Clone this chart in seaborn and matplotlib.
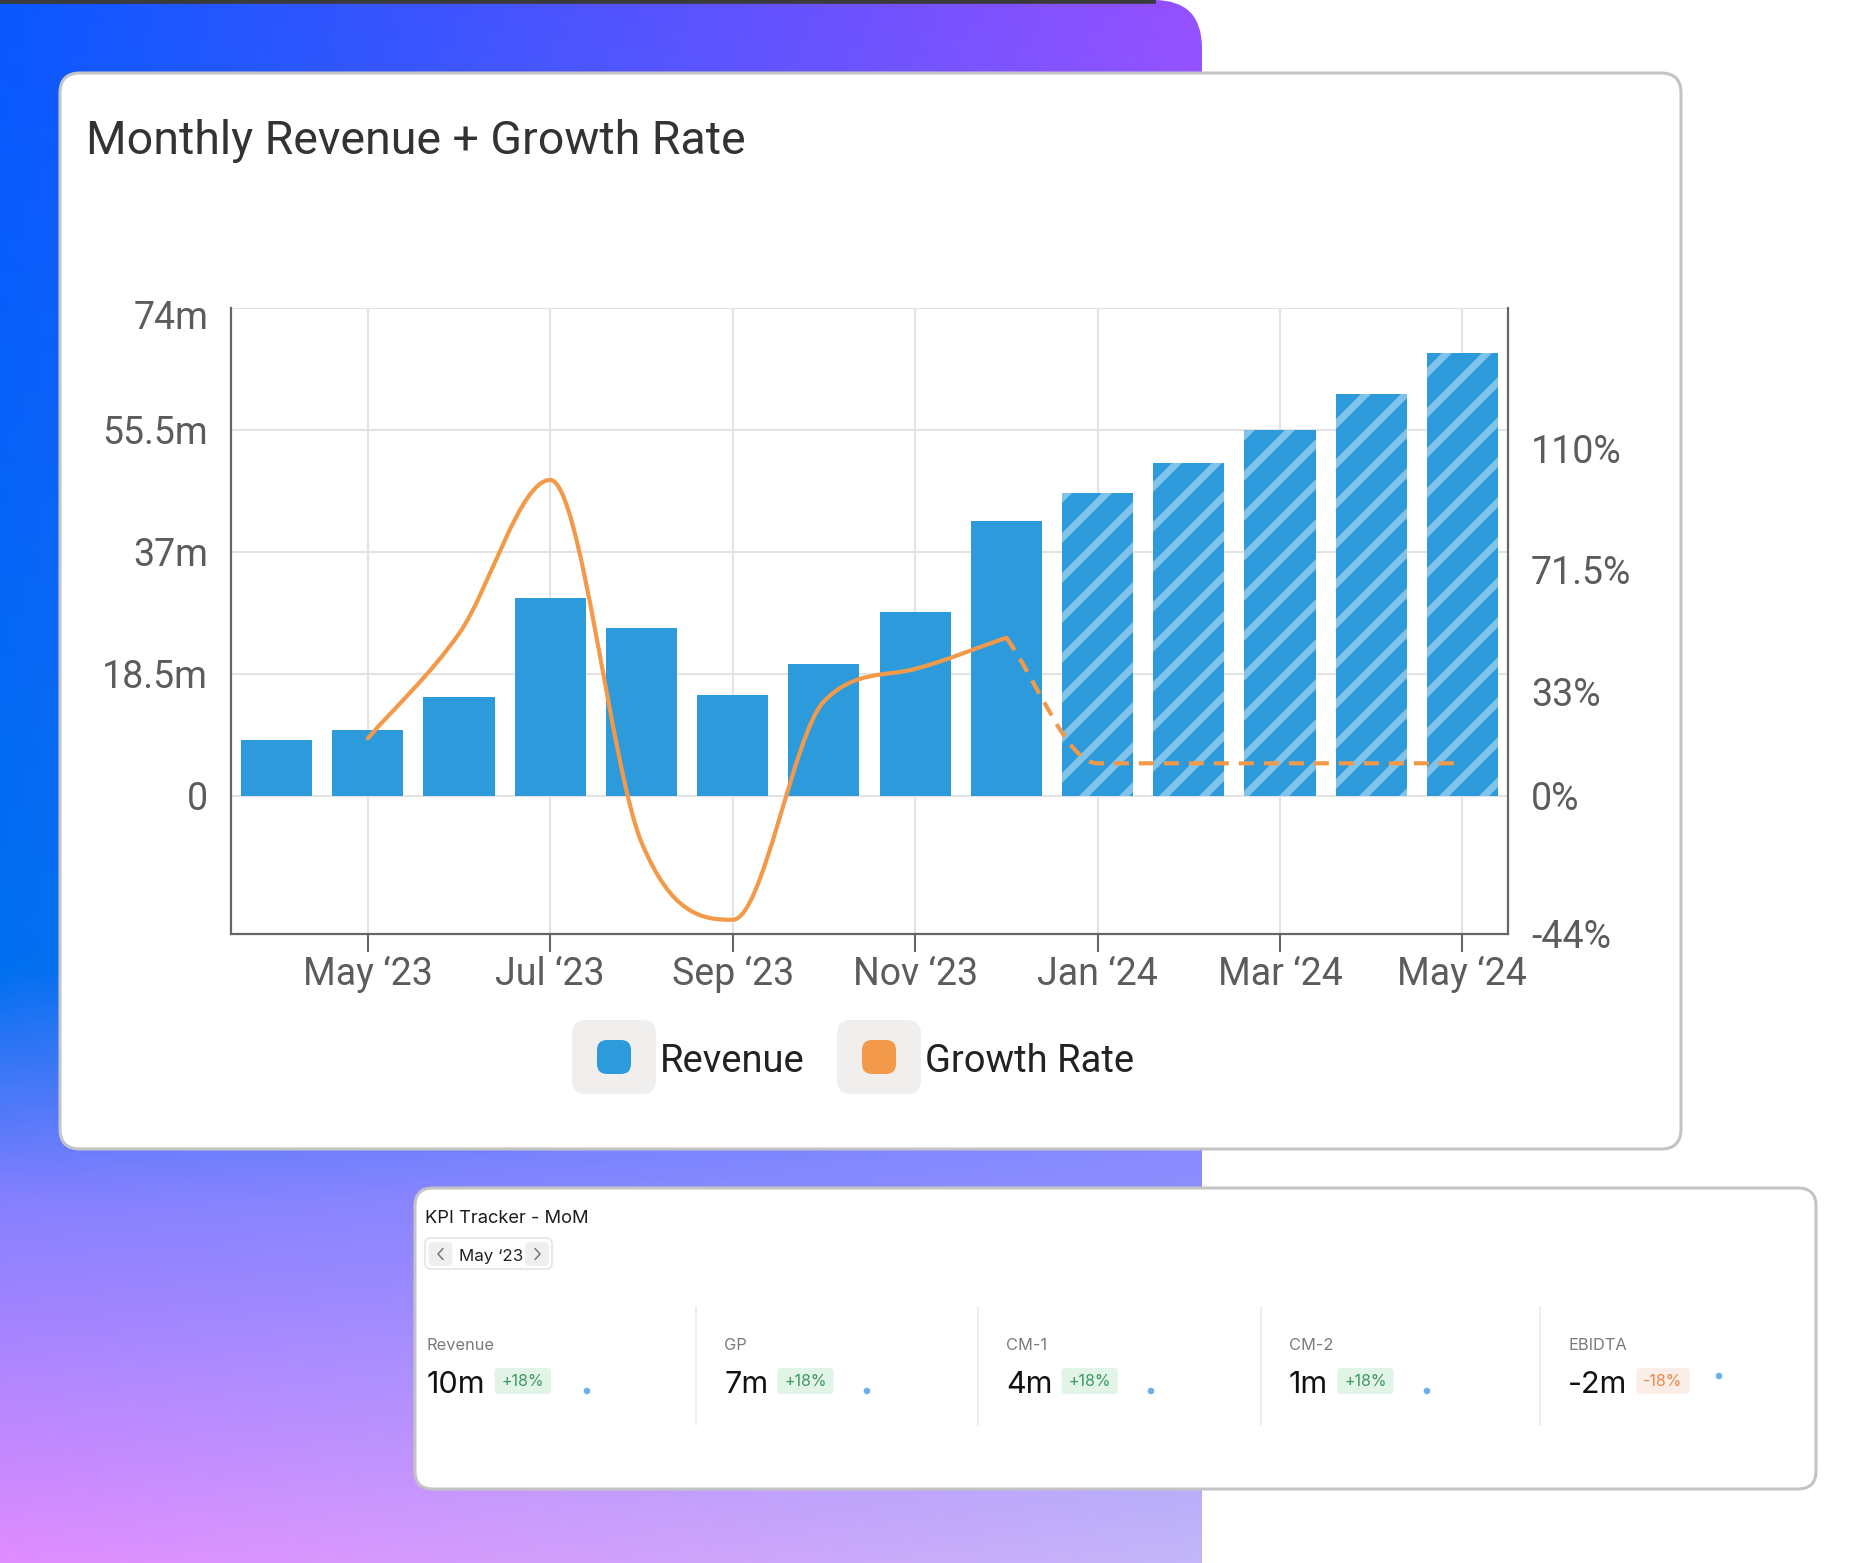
import numpy as np
import pandas as pd
import matplotlib
matplotlib.use("Agg")
import matplotlib.pyplot as plt
import matplotlib.transforms as mtransforms
import seaborn as sns
from matplotlib.patches import FancyBboxPatch, PathPatch, Rectangle, Circle
from matplotlib.path import Path

# ---------------- data ----------------
months = ["Apr \u201823", "May \u201823", "Jun \u201823", "Jul \u201823", "Aug \u201823",
          "Sep \u201823", "Oct \u201823", "Nov \u201823", "Dec \u201823", "Jan \u201824",
          "Feb \u201824", "Mar \u201824", "Apr \u201824", "May \u201824"]
revenue_m = [8.5, 10.0, 15.0, 30.0, 25.5, 15.3, 19.9, 27.9, 41.7, 45.9, 50.5, 55.5, 61.0, 67.1]
growth_pct = [np.nan, 18.0, 51.2, 99.9, -14.9, -39.5, 29.7, 40.0, 49.9, 10.1, 10.1, 10.1, 10.1, 10.1]
is_forecast = [False] * 9 + [True] * 5
x_tick_labels = ["May \u201823", "Jul \u201823", "Sep \u201823", "Nov \u201823",
                 "Jan \u201824", "Mar \u201824", "May \u201824"]
left_ticks = [0, 18.5, 37, 55.5, 74]
left_tick_labels = ["0", "18.5m", "37m", "55.5m", "74m"]
right_ticks = [-44, 0, 33, 71.5, 110]
right_tick_labels = ["-44%", "0%", "33%", "71.5%", "110%"]
legend_labels = ["Revenue", "Growth Rate"]
chart_title = "Monthly Revenue + Growth Rate"

kpi_title = "KPI Tracker - MoM"
kpi_period = "May \u201823"
kpi_names = ["Revenue", "GP", "CM-1", "CM-2", "EBIDTA"]
kpi_values = ["10m", "7m", "4m", "1m", "-2m"]
kpi_changes = ["+18%", "+18%", "+18%", "+18%", "-18%"]

# ---------------- style ----------------
BLUE = "#2d9bdb"
HATCH = "#80c3ea"
ORANGE = "#f29a4a"
TICK_COL = "#5c5c5c"
SPINE_COL = "#666666"
GRID_COL = "#e3e3e3"

DPI = 120
S = 100 / DPI  # sizes below were tuned in "points at 100 dpi"


def pt(v):
    return v * S


sns.set_theme(style="white")
plt.rcParams["font.family"] = ["Roboto", "DejaVu Sans"]
plt.rcParams["hatch.linewidth"] = 4.3
plt.rcParams["hatch.color"] = HATCH
KFONT = ["Inter", "Roboto", "DejaVu Sans"]

W, H = 1875, 1563
fig = plt.figure(figsize=(W / DPI, H / DPI), dpi=DPI)
fig.patch.set_facecolor("white")

# ---------------- background layer (pixel coords) ----------------
bg = fig.add_axes([0, 0, 1, 1], zorder=0)
bg.set_xlim(0, W)
bg.set_ylim(H, 0)
bg.axis("off")


def hex2rgb(h):
    h = h.lstrip("#")
    return [int(h[i:i + 2], 16) / 255 for i in (0, 2, 4)]


stops_y = [0.0, 0.62, 0.77, 1.0]
left_cols = [hex2rgb(c) for c in ["#0a57ff", "#0070f0", "#8680ff", "#e08cff"]]
right_cols = [hex2rgb(c) for c in ["#9650ff", "#7c7dff", "#8e90ff", "#c3b6f9"]]
ny, nx = 400, 300
yv = np.linspace(0, 1, ny)
xv = np.linspace(0, 1, nx)[None, :]
img = np.zeros((ny, nx, 3))
for c in range(3):
    lc = np.interp(yv, stops_y, [col[c] for col in left_cols])
    rc = np.interp(yv, stops_y, [col[c] for col in right_cols])
    img[:, :, c] = lc[:, None] * (1 - xv) + rc[:, None] * xv
im = bg.imshow(img, extent=(0, 1202, H, 0), aspect="auto", interpolation="bilinear", zorder=0)
clip = FancyBboxPatch((-200, 0), 1402, H + 300, boxstyle="round,pad=0,rounding_size=48",
                      transform=bg.transData, facecolor="none", edgecolor="none")
bg.add_patch(clip)
im.set_clip_path(clip)
bg.add_patch(Rectangle((0, 0), 1155, 3, color="#3a3a3a", zorder=1))
bg.set_xlim(0, W)
bg.set_ylim(H, 0)

# cards
bg.add_patch(FancyBboxPatch((60, 73), 1621, 1076, boxstyle="round,pad=0,rounding_size=20",
                            facecolor="white", edgecolor="#c4c4c4", lw=pt(2.2), zorder=2))
bg.add_patch(FancyBboxPatch((415, 1188), 1401, 301, boxstyle="round,pad=0,rounding_size=18",
                            facecolor="white", edgecolor="#c4c4c4", lw=pt(2.2), zorder=2))

# title
bg.text(86, 154, chart_title, fontsize=pt(33.5), color="#333333", va="baseline", zorder=3)

# legend
leg_box_x = [572, 837]
leg_text_x = [660, 925]
for lab, col, bx, tx in zip(legend_labels, [BLUE, ORANGE], leg_box_x, leg_text_x):
    bg.add_patch(FancyBboxPatch((bx, 1020), 84, 74, boxstyle="round,pad=0,rounding_size=14",
                                facecolor="#f0efee", edgecolor="none", zorder=3))
    bg.add_patch(FancyBboxPatch((bx + 25, 1040), 34, 34, boxstyle="round,pad=0,rounding_size=10",
                                facecolor=col, edgecolor="none", zorder=4))
    bg.text(tx, 1072, lab, fontsize=pt(27.5), color="#222222", va="baseline", zorder=4)

# ---------------- chart ----------------
pl, pr, ptop, pb = 231, 1508, 308, 934
ax = fig.add_axes([pl / W, (H - pb) / H, (pr - pl) / W, (pb - ptop) / H], zorder=1)
ax.set_facecolor("none")

df = pd.DataFrame({"month": months, "revenue": revenue_m})
sns.barplot(data=df, x="month", y="revenue", color=BLUE, saturation=1, width=0.78,
            errorbar=None, ax=ax, zorder=2)
for patch, fc in zip(ax.patches, is_forecast):
    patch.set_linewidth(0)
    if fc:
        patch.set_hatch("/")
        patch.set_edgecolor(HATCH)
        if hasattr(patch, "set_hatch_linewidth"):
            patch.set_hatch_linewidth(4.3)

ax.set_xlim(-0.5, len(months) - 0.5)
ax.set_ylim(-21.0, 74)
tick_pos = [months.index(t) for t in x_tick_labels]
ax.set_xticks(tick_pos)
ax.set_xticklabels(x_tick_labels)
ax.set_yticks(left_ticks)
ax.set_yticklabels(left_tick_labels)
ax.set_xlabel("")
ax.set_ylabel("")
ax.set_axisbelow(True)
ax.grid(True, color=GRID_COL, lw=pt(1.5))
ax.tick_params(axis="y", length=0, pad=pt(16.5), labelsize=pt(27), labelcolor=TICK_COL)
ax.tick_params(axis="x", length=pt(13), width=pt(1.5), color=SPINE_COL, pad=pt(3), labelsize=pt(27),
               labelcolor=TICK_COL, bottom=True)
for s in ["top", "right"]:
    ax.spines[s].set_visible(False)
for s in ["left", "bottom"]:
    ax.spines[s].set_color(SPINE_COL)
    ax.spines[s].set_linewidth(pt(1.6))
# the top label sits a little below its gridline
top_lab = ax.get_yticklabels()[-1]
top_lab.set_transform(top_lab.get_transform() +
                      mtransforms.ScaledTranslation(0, -7 / DPI, fig.dpi_scale_trans))

ax2 = ax.twinx()
ax2.set_ylim(-43.8, 154.4)
ax2.set_yticks(right_ticks)
ax2.set_yticklabels(right_tick_labels)
ax2.tick_params(axis="y", length=0, pad=pt(16.5), labelsize=pt(27), labelcolor=TICK_COL)
ax2.grid(False)
for s in ["top", "left", "bottom"]:
    ax2.spines[s].set_visible(False)
ax2.spines["right"].set_color(SPINE_COL)
ax2.spines["right"].set_linewidth(pt(1.6))


def monotone_path(xs, ys):
    xs = np.asarray(xs, float)
    ys = np.asarray(ys, float)
    n = len(xs)
    d = np.diff(ys) / np.diff(xs)
    m = np.zeros(n)
    m[0], m[-1] = d[0], d[-1]
    for i in range(1, n - 1):
        m[i] = 0.0 if d[i - 1] * d[i] <= 0 else (d[i - 1] + d[i]) / 2
    for i in range(n - 1):
        if abs(d[i]) < 1e-9:
            m[i] = m[i + 1] = 0.0
            continue
        a, b = m[i] / d[i], m[i + 1] / d[i]
        s = a * a + b * b
        if s > 9:
            t = 3 / np.sqrt(s)
            m[i], m[i + 1] = t * a * d[i], t * b * d[i]
    verts = [(xs[0], ys[0])]
    codes = [Path.MOVETO]
    for i in range(n - 1):
        h = xs[i + 1] - xs[i]
        verts += [(xs[i] + h / 3, ys[i] + m[i] * h / 3),
                  (xs[i + 1] - h / 3, ys[i + 1] - m[i + 1] * h / 3),
                  (xs[i + 1], ys[i + 1])]
        codes += [Path.CURVE4] * 3
    return Path(verts, codes)


g = np.asarray(growth_pct, float)
idx = np.arange(len(months))
actual = [i for i in idx if not is_forecast[i] and not np.isnan(g[i])]
last_actual = actual[-1]
fcast = [last_actual] + [i for i in idx if is_forecast[i]]
ax2.add_patch(PathPatch(monotone_path(idx[actual], g[actual]), fill=False, edgecolor=ORANGE,
                        lw=pt(3.0), capstyle="round", joinstyle="round", zorder=3))
ax2.add_patch(PathPatch(monotone_path(idx[fcast], g[fcast]), fill=False, edgecolor=ORANGE,
                        lw=pt(3.0), linestyle=(0, (3.6, 2.4)), zorder=3))

# ---------------- KPI card ----------------
bg.text(425, 1223, kpi_title, fontsize=pt(13.2), color="#1c1c1c", va="baseline", family=KFONT, zorder=5)
bg.add_patch(FancyBboxPatch((425, 1238), 127, 31, boxstyle="round,pad=0,rounding_size=6",
                            facecolor="white", edgecolor="#e4e4e4", lw=pt(1.2), zorder=5))
for bx in (428.5, 525):
    bg.add_patch(FancyBboxPatch((bx, 1242), 24, 24, boxstyle="round,pad=0,rounding_size=5",
                                facecolor="#efefef", edgecolor="none", zorder=6))
bg.plot([443, 438, 443], [1248.5, 1254, 1259.5], color="#777777", lw=pt(1.1), zorder=7,
        solid_capstyle="round")
bg.plot([535, 540, 535], [1248.5, 1254, 1259.5], color="#777777", lw=pt(1.1), zorder=7,
        solid_capstyle="round")
bg.text(459, 1261, kpi_period, fontsize=pt(12.2), color="#222222", va="baseline", family=KFONT, zorder=7)

for sx in (696, 978, 1261, 1540):
    bg.plot([sx, sx], [1307, 1425], color="#ebebeb", lw=pt(1.2), zorder=5)

col_x = [427, 724, 1006, 1289, 1568]
dot_x = [587, 867, 1151, 1427, 1719]
dot_y = [1391, 1391, 1391, 1391, 1376]
renderer = fig.canvas.get_renderer()
for name, val, chg, cx, dx, dy in zip(kpi_names, kpi_values, kpi_changes, col_x, dot_x, dot_y):
    bg.text(cx, 1350, name, fontsize=pt(11.8), color="#7a7a7a", va="baseline", family=KFONT, zorder=6)
    vt = bg.text(cx, 1393, val, fontsize=pt(22), color="#111111", va="baseline", family=KFONT, zorder=6)
    vw = vt.get_window_extent(renderer).width
    neg = chg.startswith("-")
    bx = cx + vw + 9
    ct = bg.text(bx + 7, 1381.5, chg, fontsize=pt(11.5), color="#e8894c" if neg else "#3d9a63",
                 va="center", family=KFONT, zorder=7)
    cw = ct.get_window_extent(renderer).width
    bg.add_patch(FancyBboxPatch((bx, 1368), cw + 14, 26, boxstyle="round,pad=0,rounding_size=4",
                                facecolor="#fbeee6" if neg else "#e2f3e8", edgecolor="none", zorder=6))
    bg.add_patch(Circle((dx, dy), 3.3, facecolor="#6db0ea", edgecolor="none", zorder=6))

fig.savefig("out.png", dpi=DPI)
